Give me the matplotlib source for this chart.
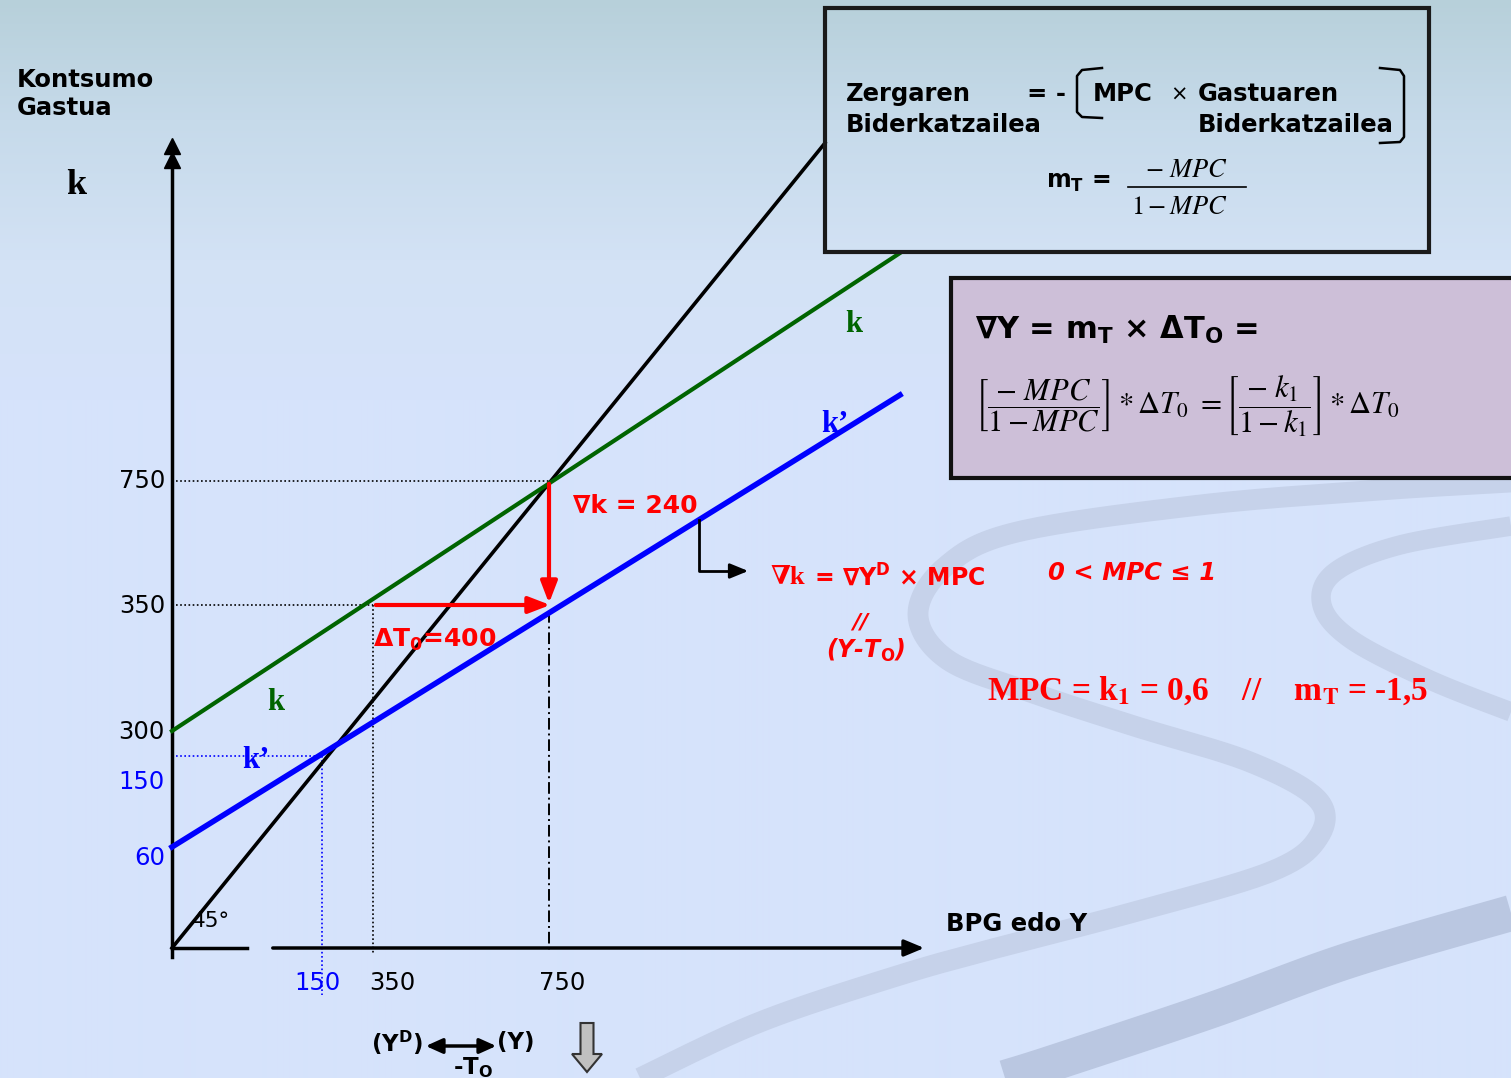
import numpy as np
import matplotlib
matplotlib.use("Agg")
import matplotlib.pyplot as plt
from matplotlib.patches import Rectangle

# ---------------- data (schematic slide geometry, in slide pixel units) ----------------
line45_x = [172, 825]
line45_y = [948, 143]
k_x = [172, 900]
k_y = [731, 253]
kp_x = [172, 900]
kp_y = [847, 395]

ytick_labels = ["750", "350", "300", "150", "60"]
ytick_pos = [481, 606, 732, 782, 858]
ytick_colors = ["black", "black", "black", "blue", "blue"]

xtick_labels = ["150", "350", "750"]
xtick_pos = [317, 392, 562]
xtick_colors = ["blue", "black", "black"]

# key points: (Y, k)
eq_k = (549, 481)      # k meets 45 deg line (750)
pt_350 = (373, 605)    # 350 on k
eq_kp = (322, 756)     # k' meets 45 deg line (150)
kp_750 = (549, 611)    # k' at Y=750

SERIF = ["Liberation Serif", "DejaVu Serif"]
SANS = ["DejaVu Sans"]

# ---------------- figure ----------------
W, H = 1511, 1078
fig = plt.figure(figsize=(W / 100, H / 100), dpi=100)
ax = fig.add_axes([0, 0, 1, 1])
ax.set_xlim(0, W)
ax.set_ylim(H, 0)
ax.axis("off")

# background gradient
stops_y = np.array([0, 120, 260, 400, H])
stops_c = np.array([[183, 208, 218], [198, 218, 234], [211, 226, 245], [214, 227, 251], [214, 227, 252]]) / 255
yy = np.arange(H)
grad = np.stack([np.interp(yy, stops_y, stops_c[:, i]) for i in range(3)], axis=-1)
grad = np.repeat(grad[:, None, :], 4, axis=1)
ax.imshow(grad, extent=[0, W, H, 0], aspect="auto", zorder=0, interpolation="bilinear")


# decorative swirl bands (background ornament)
def band(pts, lw, color, alpha=1.0):
    P = np.array(pts, float)
    P = np.vstack([P[0], P, P[-1]])
    out = []
    for i in range(1, len(P) - 2):
        p0, p1, p2, p3 = P[i - 1], P[i], P[i + 1], P[i + 2]
        for t in np.linspace(0, 1, 20, endpoint=False):
            t2, t3 = t * t, t * t * t
            out.append(0.5 * ((2 * p1) + (-p0 + p2) * t + (2 * p0 - 5 * p1 + 4 * p2 - p3) * t2
                              + (-p0 + 3 * p1 - 3 * p2 + p3) * t3))
    out.append(P[-2])
    out = np.array(out)
    ax.plot(out[:, 0], out[:, 1], color=color, lw=lw, alpha=alpha, solid_capstyle="butt", zorder=0.5)


swirl_col = "#c6d2ea"
band([(1511, 482), (1380, 490), (1200, 505), (1017, 532), (945, 567), (918, 615), (948, 660),
      (1030, 692), (1134, 726), (1250, 762), (1318, 800), (1318, 838), (1270, 872), (1134, 912),
      (1000, 947), (900, 975), (760, 1022), (640, 1078)], 15, swirl_col)
band([(1511, 526), (1400, 545), (1335, 572), (1322, 605), (1352, 640), (1430, 680), (1511, 712)],
     14, swirl_col)
band([(1511, 913), (1350, 960), (1212, 1010), (1056, 1062), (1005, 1078)], 26, "#bac7e1")

# ---------------- axes of the diagram ----------------
ax.plot([172, 172], [957, 165], color="black", lw=2.5, zorder=3)
ax.plot([172, 172], [146, 160], color="black", lw=0, marker="^", ms=12, zorder=3)
ax.plot([172, 247], [948, 948], color="black", lw=2.5, zorder=3)
ax.annotate("", xy=(927, 948), xytext=(270, 948),
            arrowprops=dict(arrowstyle="-|>,head_length=1.2,head_width=0.5", color="black", lw=2.5), zorder=3)

# guide lines
dot = (0, (1, 1.5))
ax.plot([176, eq_k[0]], [eq_k[1], eq_k[1]], color="black", lw=1.2, ls=dot, zorder=2)
ax.plot([176, pt_350[0]], [pt_350[1], pt_350[1]], color="black", lw=1.2, ls=dot, zorder=2)
ax.plot([176, eq_kp[0]], [eq_kp[1], eq_kp[1]], color="blue", lw=1.2, ls=dot, zorder=2)
ax.plot([eq_kp[0], eq_kp[0]], [eq_kp[1], 995], color="blue", lw=1.2, ls=dot, zorder=2)
ax.plot([pt_350[0], pt_350[0]], [pt_350[1], 953], color="black", lw=1.2, ls=dot, zorder=2)
ax.plot([kp_750[0], kp_750[0]], [kp_750[1], 953], color="black", lw=1.4, ls=(0, (6, 2, 1, 2)), zorder=2)

# main lines
ax.plot(line45_x, line45_y, color="black", lw=2.6, zorder=4)
ax.plot(k_x, k_y, color="#006400", lw=3.0, zorder=4)
ax.plot(kp_x, kp_y, color="#0000ff", lw=4.0, zorder=4)

# red arrows
ax.annotate("", xy=(eq_k[0], 606), xytext=(eq_k[0], eq_k[1]),
            arrowprops=dict(arrowstyle="-|>,head_length=1.3,head_width=0.5", color="red", lw=3), zorder=5)
ax.annotate("", xy=(553, 605), xytext=(pt_350[0], pt_350[1]),
            arrowprops=dict(arrowstyle="-|>,head_length=1.3,head_width=0.5", color="red", lw=3), zorder=5)

# elbow arrow
ax.plot([699, 699, 735], [520, 571, 571], color="black", lw=2, zorder=5)
ax.annotate("", xy=(751, 571), xytext=(730, 571),
            arrowprops=dict(arrowstyle="-|>,head_length=1.1,head_width=0.45", color="black", lw=2), zorder=5)

# ---------------- tick labels ----------------
for lab, y, c in zip(ytick_labels, ytick_pos, ytick_colors):
    ax.text(165, y, lab, ha="right", va="center", fontsize=17.5, color=c, zorder=6)
for lab, x, c in zip(xtick_labels, xtick_pos, xtick_colors):
    ax.text(x, 983, lab, ha="center", va="center", fontsize=17.5, color=c, zorder=6)

ax.text(192, 921, "45°", ha="left", va="center", fontsize=15.5, color="black", zorder=6)

# ---------------- texts ----------------
ax.text(17, 94, "Kontsumo\nGastua", ha="left", va="center", fontsize=17.5, fontweight="bold",
        linespacing=1.2, zorder=6)
ax.text(66, 185, "k", ha="left", va="center", fontsize=26, fontweight="bold", family=SERIF, zorder=6)
ax.text(946, 924, "BPG edo Y", ha="left", va="center", fontsize=17.5, fontweight="bold", zorder=6)

ax.text(845, 324, "k", ha="left", va="center", fontsize=22, fontweight="bold", color="#006400", family=SERIF, zorder=6)
ax.text(267, 702, "k", ha="left", va="center", fontsize=22, fontweight="bold", color="#006400", family=SERIF, zorder=6)
ax.text(821, 425, "k’", ha="left", va="center", fontsize=22, fontweight="bold", color="#0000ff", family=SERIF, zorder=6)
ax.text(242, 761, "k’", ha="left", va="center", fontsize=22, fontweight="bold", color="#0000ff", family=SERIF, zorder=6)

ax.text(573, 506, "∇k = 240", ha="left", va="center", fontsize=18, fontweight="bold", color="red", zorder=6)
ax.text(373, 640, r"ΔT$_\mathbf{0}$=400", ha="left", va="center", fontsize=18, fontweight="bold",
        color="red", math_fontfamily="dejavusans", zorder=6)

ax.text(770, 577, "∇k", ha="left", va="center", fontsize=19, fontweight="bold", color="red", family=SERIF, zorder=6)
ax.text(814, 577, r"= ∇Y$^\mathbf{D}$ × MPC", ha="left", va="center", fontsize=17, fontweight="bold",
        color="red", math_fontfamily="dejavusans", zorder=6)
ax.text(1048, 573, "0 < MPC ≤ 1", ha="left", va="center", fontsize=17.5, fontweight="bold", style="italic",
        color="red", zorder=6)
ax.text(860, 623, "//", ha="center", va="center", fontsize=16, fontweight="bold", style="italic",
        color="red", zorder=6)
ax.text(866, 650, r"(Y-T$_\mathbf{O}$)", ha="center", va="center", fontsize=17, fontweight="bold", style="italic",
        color="red", math_fontfamily="dejavusans", zorder=6)

ax.text(987, 691, r"MPC = k$_\mathbf{1}$ = 0,6    //    m$_\mathbf{T}$ = -1,5", ha="left", va="center",
        fontsize=24, fontweight="bold", color="red", family=SERIF, math_fontfamily="stix", zorder=6)

# bottom
ax.text(371, 1043, r"(Y$^\mathbf{D}$)", ha="left", va="center", fontsize=16.5, fontweight="bold",
        math_fontfamily="dejavusans", zorder=6)
ax.text(497, 1043, "(Y)", ha="left", va="center", fontsize=16.5, fontweight="bold", zorder=6)
ax.annotate("", xy=(499, 1046), xytext=(423, 1046),
            arrowprops=dict(arrowstyle="<|-|>,head_length=1.0,head_width=0.45", color="black", lw=2.5), zorder=6)
ax.text(453, 1068, r"-T$_\mathbf{O}$", ha="left", va="center", fontsize=16.5, fontweight="bold",
        math_fontfamily="dejavusans", zorder=6)
ax.arrow(587, 1023, 0, 31, width=13, head_width=30, head_length=18, length_includes_head=False,
         fc="#c0c0c0", ec="#333333", lw=1.5, zorder=6)

# ---------------- box 1 ----------------
ax.add_patch(Rectangle((825, 8), 604, 244, fill=False, ec="#1a1a1a", lw=3, zorder=6))
ax.text(846, 94, "Zergaren", ha="left", va="center", fontsize=17.5, fontweight="bold", zorder=7)
ax.text(846, 125, "Biderkatzailea", ha="left", va="center", fontsize=17.5, fontweight="bold", zorder=7)
ax.text(1027, 94, "= -", ha="left", va="center", fontsize=17.5, fontweight="bold", zorder=7)
ax.text(1093, 94, "MPC", ha="left", va="center", fontsize=17.5, fontweight="bold", zorder=7)
ax.text(1170, 95, "×", ha="left", va="center", fontsize=15, zorder=7)
ax.text(1198, 94, "Gastuaren", ha="left", va="center", fontsize=17.5, fontweight="bold", zorder=7)
ax.text(1198, 125, "Biderkatzailea", ha="left", va="center", fontsize=17.5, fontweight="bold", zorder=7)
ax.plot([1102, 1082, 1077, 1077, 1082, 1102], [68, 70, 76, 112, 117, 118], color="black", lw=1.8, zorder=7)
ax.plot([1380, 1400, 1404, 1404, 1400, 1380], [68, 70, 76, 137, 142, 143], color="black", lw=1.8, zorder=7)
ax.text(1046, 182, r"m$_\mathbf{T}$ =", ha="left", va="center", fontsize=17, fontweight="bold",
        math_fontfamily="dejavusans", zorder=7)
ax.text(1186, 170, r"$-\ MPC$", ha="center", va="center", fontsize=19, math_fontfamily="stix", zorder=7)
ax.plot([1128, 1246], [187, 187], color="black", lw=1.2, zorder=7)
ax.text(1180, 207, r"$1-MPC$", ha="center", va="center", fontsize=19, math_fontfamily="stix", zorder=7)

# ---------------- box 2 ----------------
ax.add_patch(Rectangle((951, 278), 575, 200, fc="#cdbfd8", ec="#111111", lw=3, zorder=6))
ax.text(975, 330, r"∇Y = m$_\mathbf{T}$ × ΔT$_\mathbf{O}$ =", ha="left", va="center", fontsize=22,
        fontweight="bold", math_fontfamily="dejavusans", zorder=7)
ax.text(975, 406, r"$\left[\dfrac{-\ MPC}{1-MPC}\right]*\Delta T_0\ =\left[\dfrac{-\ k_1}{1-k_1}\right]*\Delta T_0$",
        ha="left", va="center", fontsize=22, math_fontfamily="stix", zorder=7)

fig.savefig("out.png", dpi=100)
